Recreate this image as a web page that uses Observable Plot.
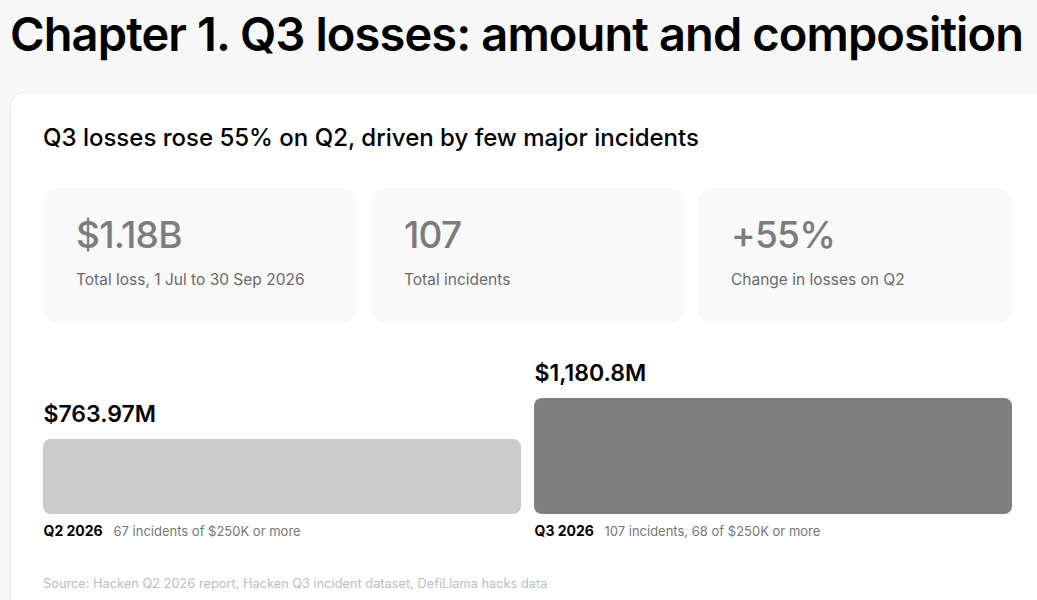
<!DOCTYPE html>
<html>
<head>
<meta charset="utf-8">
<script src="https://cdn.jsdelivr.net/npm/d3@7"></script>
<script src="https://cdn.jsdelivr.net/npm/@observablehq/plot@0.6"></script>
<style>
  html, body { margin: 0; padding: 0; }
  body { width: 1037px; height: 600px; overflow: hidden; background: #f7f7f7; font-family: Inter, "Noto Sans", sans-serif; position: relative; }
  .title { position: absolute; left: 10px; top: 4px; font-size: 47px; font-weight: 600; letter-spacing: -0.019em; color: #000; white-space: nowrap; line-height: 60px; }
  .card { position: absolute; left: 10px; top: 92px; width: 1060px; height: 540px; background: #fff; border: 1px solid #ececec; border-radius: 14px; }
  .subtitle { position: absolute; left: 43px; top: 123px; font-size: 24px; font-weight: 500; color: #000; letter-spacing: 0; white-space: nowrap; line-height: 30px; }
  .kpi { position: absolute; top: 188px; width: 314px; height: 135px; background: #f9f9f9; border-radius: 14px; }
  .kpi .v { position: absolute; left: 33px; top: 24px; font-size: 37px; font-weight: 500; color: #7c7c7c; letter-spacing: -0.02em; line-height: 46px; white-space: nowrap; }
  .kpi .l { position: absolute; left: 33px; top: 81px; font-size: 15.5px; color: #6a6a6a; line-height: 22px; white-space: nowrap; }
  #chart { position: absolute; left: 43px; top: 350px; }
  .source { position: absolute; left: 43px; top: 575px; font-size: 12.8px; color: #bdbdbd; white-space: nowrap; line-height: 18px; }
</style>
</head>
<body>
<div class="title" id="title"></div>
<div class="card"></div>
<div class="subtitle" id="subtitle"></div>
<div id="kpis"></div>
<div id="chart"></div>
<div class="source" id="source"></div>
<script>
// ---- data ----
const pageTitle = "Chapter 1. Q3 losses: amount and composition";
const subtitle = "Q3 losses rose 55% on Q2, driven by few major incidents";
const kpiValues = ["$1.18B", "107", "+55%"];
const kpiLabels = ["Total loss, 1 Jul to 30 Sep 2026", "Total incidents", "Change in losses on Q2"];
const categories = ["Q2 2026", "Q3 2026"];
const losses = [763.97, 1180.8];
const valueLabels = ["$763.97M", "$1,180.8M"];
const notes = ["67 incidents of $250K or more", "107 incidents, 68 of $250K or more"];
const sourceText = "Source: Hacken Q2 2026 report, Hacken Q3 incident dataset, DefiLlama hacks data";

// ---- text ----
document.getElementById("title").textContent = pageTitle;
document.getElementById("subtitle").textContent = subtitle;
document.getElementById("source").textContent = sourceText;
const kpiLefts = [43, 371, 698];
const kpiWrap = document.getElementById("kpis");
kpiValues.forEach((v, i) => {
  const box = document.createElement("div");
  box.className = "kpi";
  box.style.left = kpiLefts[i] + "px";
  const vv = document.createElement("div"); vv.className = "v"; vv.textContent = v;
  const ll = document.createElement("div"); ll.className = "l"; ll.textContent = kpiLabels[i];
  box.appendChild(vv); box.appendChild(ll);
  kpiWrap.appendChild(box);
});

// ---- chart ----
const data = categories.map((c, i) => ({cat: c, loss: losses[i], label: valueLabels[i], note: notes[i]}));
const W = 969;
const pad = 13 / 491;
const step = W / (2 - pad);
const bw = step * (1 - pad);

const chart = Plot.plot({
  width: W,
  height: 195,
  marginLeft: 0, marginRight: 0, marginTop: 48, marginBottom: 31,
  style: {fontFamily: "Inter, 'Noto Sans', sans-serif", background: "transparent", overflow: "visible"},
  x: {domain: categories, paddingInner: pad, paddingOuter: 0, axis: null},
  y: {domain: [0, 1180.8], axis: null},
  color: {domain: categories, range: ["#cbcbcb", "#7f7f7f"]},
  marks: [
    Plot.barY(data, {x: "cat", y: "loss", fill: "cat", rx: 8, ry: 8}),
    Plot.text(data, {x: "cat", y: "loss", text: "label", textAnchor: "start", dx: -bw / 2, dy: -25, fontSize: 23, fontWeight: 600, fill: "#000", letterSpacing: "-0.02em"}),
    Plot.text(data, {x: "cat", y: d => 0, text: "cat", textAnchor: "start", dx: -bw / 2, dy: 17, fontSize: 14, fontWeight: 700, fill: "#000"}),
    Plot.text(data, {x: "cat", y: d => 0, text: "note", textAnchor: "start", dx: -bw / 2 + 70, dy: 17, fontSize: 13, fill: "#777"})
  ]
});
document.getElementById("chart").appendChild(chart);
</script>
</body>
</html>
